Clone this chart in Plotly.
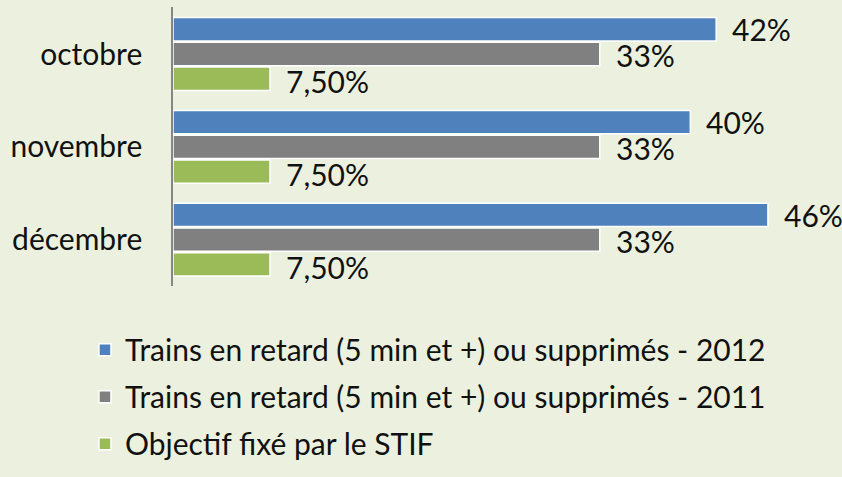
import plotly.graph_objects as go

categories = ["octobre", "novembre", "décembre"]
series_names = [
    "Trains en retard (5 min et +) ou supprimés - 2012",
    "Trains en retard (5 min et +) ou supprimés - 2011",
    "Objectif fixé par le STIF",
]
values_2012 = [0.42, 0.40, 0.46]
values_2011 = [0.33, 0.33, 0.33]
values_objectif = [0.075, 0.075, 0.075]
labels_2012 = ["42%", "40%", "46%"]
labels_2011 = ["33%", "33%", "33%"]
labels_objectif = ["7,50%", "7,50%", "7,50%"]

colors = ["#4F81BD", "#808080", "#9BBB59"]
all_values = [values_2012, values_2011, values_objectif]
all_labels = [labels_2012, labels_2011, labels_objectif]
yshifts = [25, -1, -27]

FONT = "Lato, 'Open Sans', sans-serif"
FS = 30

fig = go.Figure()
for i, (name, vals) in enumerate(zip(series_names, all_values)):
    fig.add_trace(go.Bar(
        y=categories, x=vals, name=name, orientation="h",
        marker=dict(color=colors[i], line=dict(color="white", width=1.5)),
        legendgroup=f"g{i}",
    ))

for vals, labs, ys in zip(all_values, all_labels, yshifts):
    for cat, v, lab in zip(categories, vals, labs):
        fig.add_annotation(x=v, y=cat, text=lab, showarrow=False,
                           xanchor="left", yanchor="middle", xshift=14, yshift=ys,
                           font=dict(size=FS, color="#111111", family=FONT))

fig.update_layout(
    width=842, height=477,
    paper_bgcolor="#EBF1DE", plot_bgcolor="#EBF1DE",
    margin=dict(l=173, r=12, t=7, b=180),
    barmode="group", bargap=0.2, bargroupgap=0.06,
    font=dict(family=FONT, size=FS, color="#111111"),
    xaxis=dict(range=[0, 0.508], visible=False, showgrid=False, zeroline=False),
    yaxis=dict(autorange="reversed", showline=True, linecolor="#868686", linewidth=1.5,
               ticks="", ticklabelstandoff=23, showgrid=False,
               tickfont=dict(size=FS, family=FONT, color="#111111")),
    showlegend=True,
    legend=dict(x=-0.134, xanchor="left", y=-0.135, yanchor="top",
                orientation="v", traceorder="grouped", tracegroupgap=5,
                bgcolor="rgba(0,0,0,0)", font=dict(size=FS, family=FONT, color="#111111"),
                itemwidth=30),
)

fig.write_html("out.html", config={"displayModeBar": False},
               post_script="document.body.style.margin='0';")
